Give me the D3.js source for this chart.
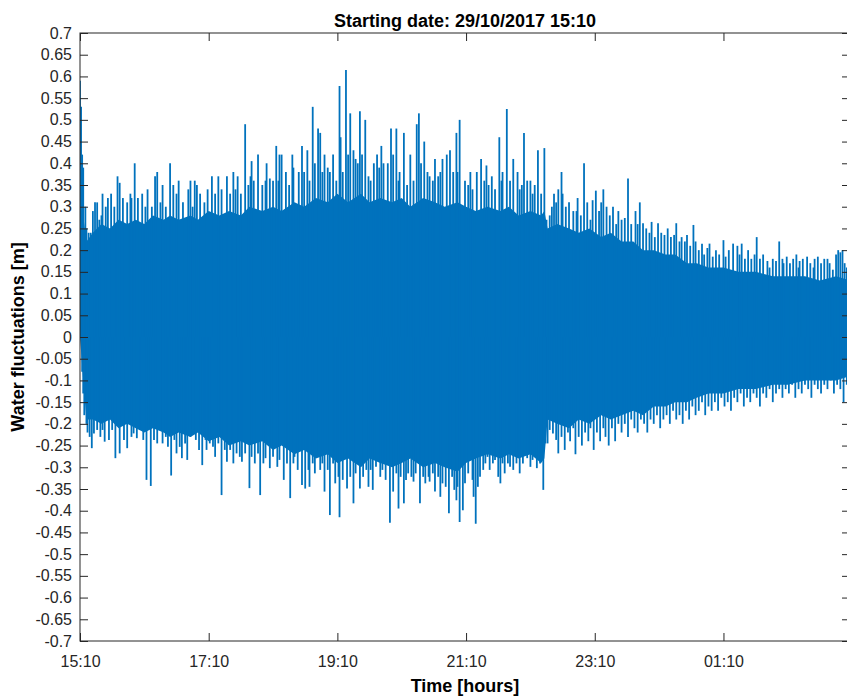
<!DOCTYPE html>
<html lang="en">
<head>
    <meta charset="UTF-8">
    <title>Water fluctuations</title>
    <style>
        html, body { margin: 0; padding: 0; background: #fff; }
        svg { display: block; }
        .axis text {
            font-family: "Liberation Sans", Arial, sans-serif;
            font-size: 16px;
            fill: #262626;
        }
        .axis line { stroke: #262626; }
        .axis path { display: none; }
        .label {
            font-family: "Liberation Sans", Arial, sans-serif;
            font-weight: bold;
            font-size: 18px;
            fill: #000;
        }
    </style>
    <script src="https://d3js.org/d3.v7.min.js"></script>
</head>
<body>
<svg width="847" height="696"></svg>
<script>
// time is in minutes after the start (29/10/2017 15:10)
const xTicks = [0, 120, 240, 360, 480, 600];
const xTickLabels = ["15:10", "17:10", "19:10", "21:10", "23:10", "01:10"];
const yTicks = [-0.7, -0.65, -0.6, -0.55, -0.5, -0.45, -0.4, -0.35, -0.3, -0.25, -0.2, -0.15, -0.1, -0.05,
    0, 0.05, 0.1, 0.15, 0.2, 0.25, 0.3, 0.35, 0.4, 0.45, 0.5, 0.55, 0.6, 0.65, 0.7];
const yTickLabels = ["-0.7", "-0.65", "-0.6", "-0.55", "-0.5", "-0.45", "-0.4", "-0.35", "-0.3", "-0.25", "-0.2", "-0.15", "-0.1", "-0.05",
    "0", "0.05", "0.1", "0.15", "0.2", "0.25", "0.3", "0.35", "0.4", "0.45", "0.5", "0.55", "0.6", "0.65", "0.7"];

// dense body of the record: [minute, upper, lower]
const body = [
    [0,0.30,0.00],[3,0.28,-0.10],[6,0.22,-0.19],[12,0.24,-0.19],[20,0.26,-0.20],[28,0.25,-0.19],
    [36,0.27,-0.21],[44,0.26,-0.20],[52,0.27,-0.21],[60,0.26,-0.22],[68,0.28,-0.21],[78,0.27,-0.22],
    [84,0.28,-0.23],[92,0.27,-0.22],[103,0.28,-0.23],[110,0.27,-0.22],[120,0.29,-0.24],[130,0.28,-0.23],
    [139,0.29,-0.25],[150,0.28,-0.24],[158,0.30,-0.25],[170,0.29,-0.24],[180,0.30,-0.26],[188,0.29,-0.25],
    [200,0.31,-0.27],[209,0.30,-0.26],[220,0.32,-0.28],[231,0.31,-0.27],[240,0.33,-0.29],[250,0.31,-0.28],
    [262,0.33,-0.30],[270,0.31,-0.28],[280,0.32,-0.29],[291,0.31,-0.30],[300,0.32,-0.29],[308,0.30,-0.28],
    [320,0.32,-0.30],[331,0.31,-0.29],[340,0.30,-0.30],[352,0.31,-0.31],[360,0.30,-0.29],[369,0.29,-0.28],
    [380,0.30,-0.27],[392,0.29,-0.28],[400,0.30,-0.27],[409,0.28,-0.28],[420,0.29,-0.27],[430,0.28,-0.29],
    [433,0.29,-0.28],[436,0.25,-0.19],[445,0.26,-0.20],[456,0.25,-0.21],[465,0.24,-0.19],[475,0.25,-0.20],
    [486,0.23,-0.18],[495,0.24,-0.19],[505,0.22,-0.18],[516,0.22,-0.17],[525,0.20,-0.18],[535,0.20,-0.16],
    [546,0.19,-0.16],[555,0.19,-0.15],[566,0.17,-0.15],[575,0.17,-0.14],[586,0.16,-0.13],[600,0.16,-0.13],
    [614,0.15,-0.12],[630,0.15,-0.12],[646,0.14,-0.11],[660,0.14,-0.11],[676,0.14,-0.10],[690,0.13,-0.10],
    [705,0.14,-0.10],[718,0.13,-0.09]
];

// crests: [minute, value]
const crests = [
    [0,0.59],[1,0.53],[2,0.42],[3,0.39],[5,0.30],[6,0.25],[8,0.24],[10,0.24],[12,0.29],[14,0.31],
    [16,0.31],[18,0.27],[20,0.28],[21,0.33],[24,0.30],[26,0.32],[29,0.33],[32,0.30],[35,0.37],[37,0.355],
    [40,0.32],[44,0.31],[47,0.33],[48,0.32],[51,0.40],[54,0.32],[58,0.33],[61,0.30],[63,0.34],[67,0.30],
    [70,0.37],[72,0.38],[75,0.31],[77,0.35],[80,0.30],[84,0.40],[87,0.35],[90,0.33],[92,0.36],[96,0.31],
    [101,0.34],[103,0.36],[105,0.30],[107,0.36],[109,0.35],[112,0.33],[116,0.31],[119,0.34],[123,0.37],[126,0.33],
    [129,0.37],[132,0.34],[137,0.37],[140,0.33],[143,0.38],[145,0.34],[147,0.37],[150,0.33],[154,0.49],[157,0.35],
    [159,0.37],[160,0.405],[162,0.36],[166,0.42],[170,0.35],[173,0.36],[174,0.40],[177,0.365],[180,0.36],[183,0.44],
    [185,0.36],[186,0.42],[188,0.42],[192,0.38],[195,0.35],[198,0.42],[199,0.39],[204,0.38],[207,0.44],[209,0.38],
    [212,0.43],[214,0.36],[217,0.53],[219,0.40],[222,0.48],[224,0.47],[226,0.38],[228,0.42],[231,0.39],[233,0.38],
    [236,0.42],[239,0.36],[242,0.578],[243,0.46],[245,0.38],[248,0.615],[250,0.42],[252,0.515],[255,0.43],[257,0.41],
    [259,0.40],[261,0.52],[263,0.42],[266,0.50],[269,0.37],[271,0.36],[274,0.40],[277,0.42],[279,0.39],[281,0.44],
    [283,0.40],[287,0.40],[290,0.48],[292,0.42],[295,0.48],[297,0.36],[298,0.38],[302,0.47],[305,0.35],[308,0.42],
    [311,0.36],[314,0.49],[316,0.515],[318,0.40],[321,0.45],[324,0.38],[326,0.37],[329,0.36],[331,0.41],[334,0.37],
    [336,0.38],[338,0.41],[342,0.42],[345,0.43],[348,0.38],[351,0.47],[352,0.38],[354,0.50],[359,0.36],[362,0.35],
    [364,0.38],[366,0.34],[370,0.38],[374,0.41],[377,0.36],[379,0.395],[381,0.35],[384,0.37],[387,0.34],[391,0.46],
    [393,0.36],[394,0.38],[398,0.525],[401,0.36],[404,0.41],[408,0.38],[410,0.34],[412,0.35],[414,0.47],[417,0.36],
    [420,0.36],[422,0.33],[424,0.35],[427,0.43],[430,0.33],[433,0.435],[435,0.27],[438,0.28],[440,0.30],[442,0.33],
    [444,0.31],[446,0.34],[449,0.38],[450,0.33],[453,0.30],[456,0.31],[460,0.29],[463,0.29],[464,0.32],[467,0.28],
    [470,0.40],[473,0.31],[476,0.27],[478,0.315],[481,0.337],[484,0.29],[486,0.31],[488,0.34],[491,0.30],[494,0.28],
    [497,0.30],[500,0.26],[502,0.29],[505,0.27],[508,0.274],[511,0.365],[514,0.26],[518,0.29],[520,0.26],[522,0.31],
    [525,0.262],[528,0.25],[531,0.24],[533,0.265],[536,0.23],[539,0.262],[542,0.24],[545,0.235],[548,0.25],[551,0.23],
    [554,0.235],[556,0.262],[559,0.22],[561,0.23],[564,0.22],[566,0.235],[569,0.21],[572,0.258],[574,0.22],[577,0.20],
    [580,0.215],[582,0.19],[585,0.205],[587,0.215],[590,0.185],[593,0.20],[596,0.19],[600,0.223],[602,0.185],[605,0.20],
    [609,0.215],[613,0.21],[615,0.19],[617,0.215],[620,0.18],[623,0.20],[626,0.18],[629,0.19],[631,0.23],[634,0.18],
    [637,0.19],[641,0.175],[643,0.16],[646,0.18],[649,0.175],[652,0.22],[655,0.18],[656,0.17],[659,0.185],[662,0.17],
    [665,0.18],[668,0.19],[670,0.16],[671,0.175],[674,0.18],[678,0.185],[681,0.17],[684,0.16],[685,0.18],[688,0.185],
    [691,0.17],[694,0.18],[697,0.18],[699,0.17],[702,0.155],[705,0.19],[707,0.20],[709,0.195],[711,0.20],[713,0.17],
    [715,0.16]
];

// troughs: [minute, value]
const troughs = [
    [2,-0.08],[3,-0.13],[4,-0.18],[6,-0.20],[7,-0.22],[9,-0.23],[11,-0.256],[13,-0.222],[16,-0.214],[19,-0.23],
    [21,-0.214],[23,-0.241],[27,-0.237],[30,-0.214],[33,-0.279],[37,-0.268],[41,-0.237],[44,-0.256],[48,-0.23],[50,-0.222],
    [53,-0.233],[56,-0.214],[59,-0.237],[62,-0.329],[66,-0.343],[69,-0.237],[72,-0.245],[75,-0.214],[77,-0.245],[80,-0.23],
    [82,-0.253],[85,-0.319],[88,-0.237],[90,-0.268],[93,-0.253],[95,-0.279],[98,-0.245],[100,-0.283],[103,-0.23],[105,-0.214],
    [108,-0.237],[111,-0.26],[114,-0.295],[117,-0.237],[118,-0.26],[121,-0.245],[124,-0.253],[126,-0.276],[129,-0.245],[132,-0.364],
    [135,-0.26],[137,-0.287],[140,-0.26],[143,-0.291],[146,-0.268],[149,-0.276],[151,-0.287],[154,-0.268],[158,-0.348],[160,-0.276],
    [163,-0.291],[166,-0.268],[168,-0.364],[171,-0.291],[173,-0.279],[177,-0.302],[180,-0.276],[184,-0.299],[186,-0.283],[190,-0.329],
    [193,-0.291],[196,-0.371],[199,-0.291],[200,-0.276],[203,-0.306],[207,-0.341],[210,-0.349],[213,-0.306],[214,-0.345],[217,-0.291],
    [219,-0.314],[222,-0.276],[224,-0.306],[226,-0.291],[228,-0.356],[231,-0.306],[233,-0.41],[236,-0.291],[238,-0.337],[241,-0.322],
    [242,-0.415],[245,-0.329],[249,-0.349],[252,-0.322],[255,-0.383],[257,-0.314],[261,-0.349],[264,-0.322],[267,-0.306],[269,-0.345],
    [271,-0.306],[273,-0.352],[276,-0.299],[280,-0.322],[282,-0.306],[285,-0.329],[289,-0.428],[292,-0.356],[295,-0.314],[297,-0.395],
    [299,-0.322],[302,-0.383],[304,-0.329],[306,-0.314],[309,-0.322],[311,-0.333],[313,-0.314],[317,-0.383],[320,-0.322],[322,-0.337],
    [325,-0.322],[326,-0.333],[329,-0.314],[331,-0.356],[334,-0.322],[336,-0.368],[338,-0.337],[341,-0.345],[344,-0.406],[347,-0.322],
    [349,-0.352],[351,-0.376],[352,-0.345],[354,-0.426],[357,-0.399],[359,-0.337],[362,-0.314],[366,-0.329],[367,-0.368],[369,-0.43],
    [371,-0.345],[373,-0.322],[376,-0.306],[378,-0.291],[380,-0.276],[382,-0.306],[385,-0.291],[387,-0.283],[390,-0.322],[392,-0.337],
    [394,-0.291],[396,-0.314],[399,-0.291],[401,-0.299],[404,-0.306],[407,-0.291],[410,-0.314],[413,-0.291],[417,-0.279],[420,-0.299],
    [422,-0.283],[426,-0.302],[429,-0.291],[432,-0.352],[434,-0.245],[436,-0.245],[438,-0.214],[441,-0.222],[444,-0.237],[446,-0.268],
    [449,-0.23],[452,-0.26],[455,-0.22],[457,-0.24],[460,-0.21],[462,-0.27],[465,-0.23],[468,-0.25],[471,-0.22],[474,-0.24],
    [476,-0.21],[479,-0.26],[482,-0.22],[485,-0.24],[488,-0.21],[490,-0.23],[493,-0.25],[496,-0.21],[499,-0.24],[502,-0.20],
    [505,-0.22],[508,-0.20],[511,-0.23],[514,-0.19],[517,-0.21],[520,-0.22],[523,-0.19],[526,-0.20],[529,-0.22],[532,-0.19],
    [535,-0.20],[538,-0.18],[541,-0.21],[544,-0.19],[547,-0.18],[550,-0.20],[553,-0.17],[556,-0.19],[559,-0.18],[562,-0.20],
    [565,-0.17],[568,-0.19],[571,-0.16],[574,-0.18],[577,-0.17],[580,-0.15],[583,-0.18],[586,-0.16],[589,-0.17],[592,-0.15],
    [595,-0.17],[598,-0.14],[601,-0.16],[604,-0.15],[607,-0.17],[610,-0.14],[613,-0.15],[616,-0.13],[619,-0.16],[622,-0.14],
    [625,-0.15],[628,-0.13],[631,-0.14],[634,-0.16],[637,-0.13],[640,-0.14],[643,-0.12],[646,-0.15],[649,-0.13],[652,-0.12],
    [655,-0.14],[658,-0.12],[661,-0.13],[664,-0.11],[667,-0.14],[670,-0.12],[673,-0.13],[676,-0.11],[679,-0.12],[682,-0.14],
    [685,-0.11],[688,-0.12],[691,-0.13],[694,-0.11],[697,-0.12],[700,-0.10],[703,-0.13],[706,-0.11],[709,-0.12],[712,-0.15],
    [715,-0.11]
];

const svg = d3.select("svg");
const plotLeft = 80, plotRight = 850, plotTop = 33, plotBottom = 641;
const lineColor = "#0072bd";

const x = d3.scaleLinear().domain([0, 718]).range([plotLeft, plotRight]);
const y = d3.scaleLinear().domain([-0.7, 0.7]).range([plotBottom, plotTop]);

svg.append("clipPath").attr("id", "plot-clip")
    .append("rect")
    .attr("x", plotLeft).attr("y", plotTop)
    .attr("width", plotRight - plotLeft).attr("height", plotBottom - plotTop);

const plot = svg.append("g").attr("clip-path", "url(#plot-clip)");

// solid body of the oscillation
const bodyArea = d3.area()
    .x(d => x(d[0]))
    .y0(d => y(d[2]))
    .y1(d => y(d[1]));

plot.append("path")
    .datum(body)
    .attr("fill", lineColor)
    .attr("d", bodyArea);

// individual excursions above and below
plot.append("g").selectAll("line")
    .data(crests.concat(troughs))
    .join("line")
    .attr("x1", d => x(d[0]))
    .attr("x2", d => x(d[0]))
    .attr("y1", y(0))
    .attr("y2", d => y(d[1]))
    .attr("stroke", lineColor)
    .attr("stroke-width", 1.8);

// axes, ticks pointing inward on all four sides
svg.append("g")
    .attr("class", "axis")
    .attr("transform", `translate(${plotLeft},0)`)
    .call(d3.axisLeft(y).tickValues(yTicks)
        .tickFormat((d, i) => yTickLabels[i])
        .tickSize(-8).tickPadding(8));

svg.append("g")
    .attr("class", "axis")
    .attr("transform", `translate(${plotRight},0)`)
    .call(d3.axisRight(y).tickValues(yTicks).tickFormat("").tickSize(-8));

svg.append("g")
    .attr("class", "axis")
    .attr("transform", `translate(0,${plotBottom})`)
    .call(d3.axisBottom(x).tickValues(xTicks)
        .tickFormat((d, i) => xTickLabels[i])
        .tickSize(-8).tickPadding(15));

svg.append("g")
    .attr("class", "axis")
    .attr("transform", `translate(0,${plotTop})`)
    .call(d3.axisTop(x).tickValues(xTicks).tickFormat("").tickSize(-8));

svg.append("rect")
    .attr("x", plotLeft).attr("y", plotTop)
    .attr("width", plotRight - plotLeft).attr("height", plotBottom - plotTop)
    .attr("fill", "none")
    .attr("stroke", "#262626")
    .attr("stroke-width", 1);

// titles
svg.append("text")
    .attr("class", "label")
    .attr("x", (plotLeft + plotRight) / 2)
    .attr("y", 27)
    .attr("text-anchor", "middle")
    .text("Starting date: 29/10/2017 15:10");

svg.append("text")
    .attr("class", "label")
    .attr("x", (plotLeft + plotRight) / 2)
    .attr("y", 692)
    .attr("text-anchor", "middle")
    .text("Time [hours]");

svg.append("text")
    .attr("class", "label")
    .attr("transform", `translate(24,${(plotTop + plotBottom) / 2}) rotate(-90)`)
    .attr("text-anchor", "middle")
    .text("Water fluctuations [m]");
</script>
</body>
</html>
